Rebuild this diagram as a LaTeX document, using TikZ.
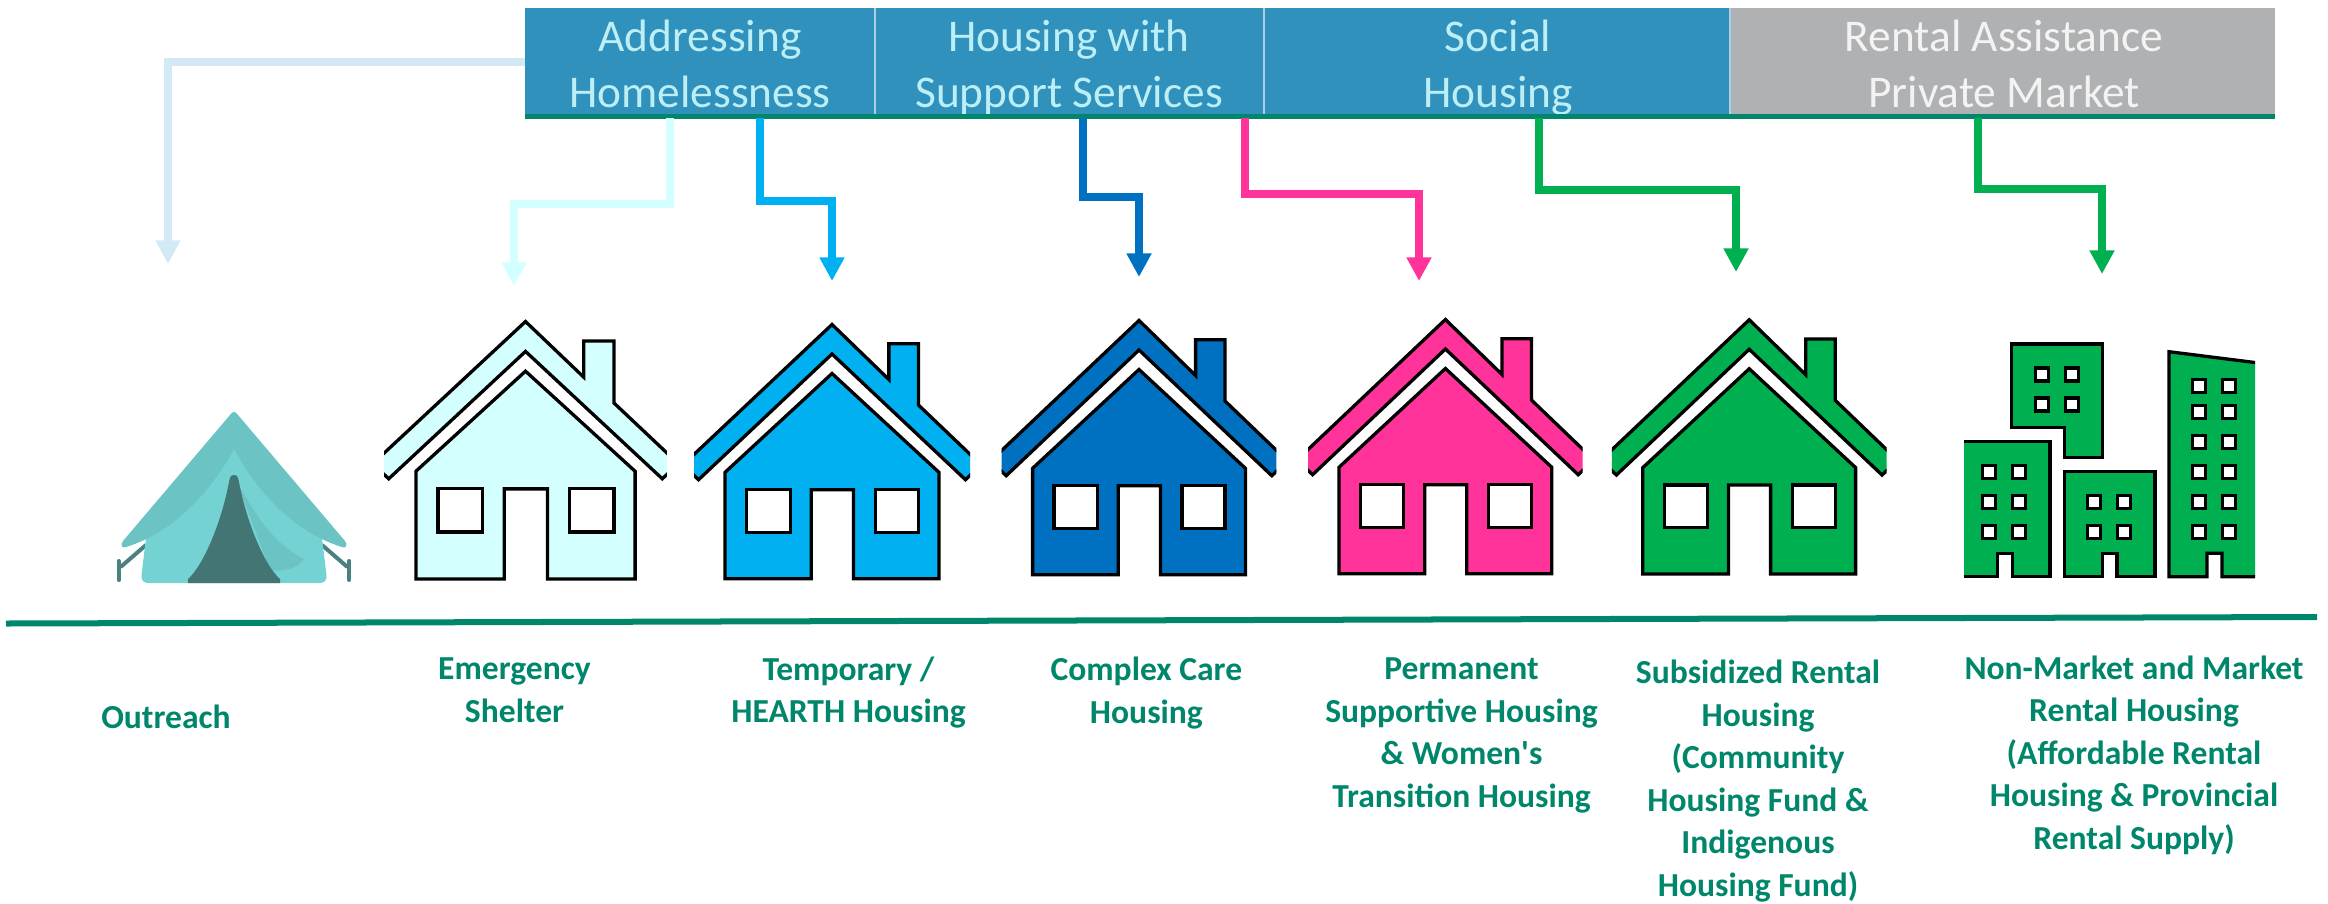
\documentclass[tikz,border=0pt]{standalone}
\usepackage{fontspec}
\setmainfont{Carlito}
\usetikzlibrary{arrows.meta}
\definecolor{cellblue}{HTML}{3091BC}
\definecolor{cellgrey}{HTML}{B0B1B3}
\definecolor{cellrule}{HTML}{A9CFE0}
\definecolor{teal}{HTML}{00876B}
\definecolor{cOut}{HTML}{D4E9F6}
\definecolor{cEme}{HTML}{D4FFFF}
\definecolor{cTem}{HTML}{00B0F0}
\definecolor{cCom}{HTML}{0070C0}
\definecolor{cPer}{HTML}{FF3399}
\definecolor{cSub}{HTML}{00B050}
\definecolor{tentRoof}{HTML}{6CC3C3}
\definecolor{tentBody}{HTML}{74D2D2}
\definecolor{tentDoor}{HTML}{447575}
\definecolor{tentPole}{HTML}{4A8080}
\tikzset{
  x=0.01cm,y=-0.01cm,
  cell/.style={anchor=north west,inner sep=0pt,outer sep=0pt,minimum height=1.07cm},
  headtext/.style={anchor=base,inner sep=0pt,align=center,font=\fontsize{12.9}{15.9}\selectfont},
  caption/.style={anchor=base,inner sep=0pt,align=center,text=teal,font=\fontsize{9.55}{12.08}\selectfont\bfseries},
  route/.style={line width=0.8mm,-{Triangle[length=2.35mm,width=2.35mm]},miter limit=10},
  icon/.style={draw=black,line width=0.33mm,miter limit=10},
  pane/.style={draw=black,fill=white,line width=0.32mm}
}
\newcommand{\houseicon}[6]{%
  \coordinate (#1) at (#2,#3);
  \begin{scope}[shift={(#2,#3)},xscale=#4,yscale=#5]
    \begin{scope}
      \clip (-137.3,-10) rectangle (137.3,170);
      \path[icon,fill=#6] (0,2.5) -- (56.6,57.5) -- (56.6,21.7) -- (86,21.7) -- (86,83)
        -- (148.5,143) -- (132.8,157.7) -- (0,32) -- (-132.8,157.7) -- (-148.5,143) -- cycle;
    \end{scope}
    \path[icon,fill=#6] (0,51.5) -- (106.4,150.3) -- (106.4,256.7) -- (21.4,256.7) -- (21.4,167.7)
      -- (-20.7,167.7) -- (-20.7,256.7) -- (-106.4,256.7) -- (-106.4,150.3) -- cycle;
    \path[pane] (-85,167.7) rectangle (-41.7,210.3);
    \path[pane] (42.9,167.7) rectangle (86,210.3);
  \end{scope}}
\newcommand{\winpane}[2]{\path[pane] (#1-6.5,#2-6.5) rectangle (#1+6.5,#2+6.5);}
\begin{document}
\begin{tikzpicture}
\useasboundingbox (0,0) rectangle (2328,903);

% connectors lying behind the header
\coordinate (outS) at (530,61.6);
\coordinate (outE) at (168,264);
\coordinate (outM) at (168,61.6);
\draw[route,draw=cOut] (outS) -- (outM) -- (outE);

% header cells
\node[cell,fill=cellblue,minimum width=3.505cm] (cAddr) at (524.5,8) {};
\node[cell,fill=cellblue,minimum width=3.89cm] (cSupp) at (875,8) {};
\node[cell,fill=cellblue,minimum width=4.655cm] (cSoc) at (1264,8) {};
\node[cell,fill=cellgrey,minimum width=5.455cm] (cRent) at (1729.5,8) {};
\draw[cellrule,line width=0.2mm] (cSupp.north west) -- (cSupp.south west);
\draw[cellrule,line width=0.2mm] (cSoc.north west) -- (cSoc.south west);
\draw[cellrule,line width=0.2mm] (cRent.north west) -- (cRent.south west);
\node[headtext,text=cEme!85!cellblue] (tAddr) at (700,107.5) {Addressing\\Homelessness};
\node[headtext,text=cEme!85!cellblue] (tSupp) at (1069,107.5) {Housing with\\Support Services};
\node[headtext,text=cEme!85!cellblue] (tSoc) at (1498,107.5) {Social\\Housing};
\node[headtext,text=white!85!cellgrey] (tRent) at (2004,107.5) {Rental Assistance\\Private Market};
\draw[teal,line width=0.45mm] ([yshift=-0.015cm]cAddr.south west) -- ([yshift=-0.015cm]cRent.south east);

% connectors
\coordinate (emeS) at (670,118); \coordinate (emeE) at (514,286); \coordinate (emeM) at (514,204);
\coordinate (temS) at (760,118); \coordinate (temE) at (832,281); \coordinate (temM) at (832,201);
\coordinate (comS) at (1083,118); \coordinate (comE) at (1139,277); \coordinate (comM) at (1139,197);
\coordinate (perS) at (1245,118); \coordinate (perE) at (1419,281); \coordinate (perM) at (1419,194);
\coordinate (subS) at (1539,118); \coordinate (subE) at (1736,272); \coordinate (subM) at (1736,190);
\coordinate (nonS) at (1978,118); \coordinate (nonE) at (2102,274); \coordinate (nonM) at (2102,189);
\draw[route,draw=cEme] (emeS) |- (emeM) -- (emeE);
\draw[route,draw=cTem] (temS) |- (temM) -- (temE);
\draw[route,draw=cCom] (comS) |- (comM) -- (comE);
\draw[route,draw=cPer] (perS) |- (perM) -- (perE);
\draw[route,draw=cSub] (subS) |- (subM) -- (subE);
\draw[route,draw=cSub] (nonS) |- (nonM) -- (nonE);

% tent
\draw[tentPole,line width=0.4mm] (146,545) -- (120.6,567);
\draw[tentPole,line width=0.4mm,line cap=round] (118.7,561) -- (118.7,580);
\draw[tentPole,line width=0.4mm] (322,545) -- (347.4,567);
\draw[tentPole,line width=0.4mm,line cap=round] (349.3,561) -- (349.3,580);
\fill[tentBody] (234,440) -- (321,530) -- (326.5,575) .. controls (327,581) and (324,583) .. (319,583)
  -- (149,583) .. controls (144,583) and (141,581) .. (141.5,575) -- (147,530) -- cycle;
\fill[tentRoof] (237,482) .. controls (258,520) and (276,545) .. (304,559)
  .. controls (298,568) and (284,572) .. (270,570) -- cycle;
\fill[tentDoor] (234,475) .. controls (238,475) and (238,478) .. (239,482)
  .. controls (246,520) and (264,565) .. (280,579) -- (280,583) -- (188,583) -- (188,579)
  .. controls (204,565) and (222,520) .. (229,482) .. controls (230,478) and (230,475) .. (234,475) -- cycle;
\fill[tentRoof] (234,412) .. controls (236,412) and (236,413) .. (238,415) -- (345,541)
  .. controls (348,545) and (346,549) .. (342,547)
  .. controls (300,534) and (262,500) .. (234,449)
  .. controls (206,500) and (168,534) .. (126,547)
  .. controls (122,549) and (120,545) .. (123,541) -- (230,415)
  .. controls (232,413) and (232,412) .. (234,412) -- cycle;

% houses
\houseicon{hEme}{525.5}{319}{1.03}{1.013}{cEme}
\houseicon{hTem}{832}{322}{1.005}{1}{cTem}
\houseicon{hCom}{1139}{318}{1}{1}{cCom}
\houseicon{hPer}{1445.4}{317}{1}{1}{cPer}
\houseicon{hSub}{1749.2}{317.3}{1}{1}{cSub}

% buildings
\path[icon,fill=cSub] (2011.7,344) -- (2102.3,344) -- (2102.3,457.3) -- (2064.3,457.3) -- (2064.3,427.3) -- (2011.7,427.3) -- cycle;
\begin{scope}
  \clip (1964,430) rectangle (2255,590);
  \path[icon,fill=cSub] (1950,441.7) -- (2050,441.7) -- (2050,576.7) -- (2012.3,576.7) -- (2012.3,553.3) -- (1997.3,553.3) -- (1997.3,576.7) -- (1950,576.7) -- cycle;
\end{scope}
\path[icon,fill=cSub] (2064.3,471.7) -- (2155,471.7) -- (2155,576.7) -- (2117,576.7) -- (2117,553.3) -- (2102.3,553.3) -- (2102.3,576.7) -- (2064.3,576.7) -- cycle;
\begin{scope}
  \clip (2150,340) rectangle (2255,590);
  \path[icon,fill=cSub] (2169,351.7) -- (2270,364.4) -- (2270,576.7) -- (2222,576.7) -- (2222,553.3) -- (2207,553.3) -- (2207,576.7) -- (2169,576.7) -- cycle;
\end{scope}
\foreach \wx in {2042,2072}{\foreach \wy in {374.5,404.5}{\winpane{\wx}{\wy}}}
\foreach \wx in {1989.3,2019.3}{\foreach \wy in {471.7,501.7,531.7}{\winpane{\wx}{\wy}}}
\foreach \wx in {2094.3,2124.3}{\foreach \wy in {501.7,531.7}{\winpane{\wx}{\wy}}}
\foreach \wx in {2199.3,2229.3}{\foreach \wy in {385.7,411.7,441.7,471.7,501.7,531.7}{\winpane{\wx}{\wy}}}

% ground line
\coordinate (gL) at (6,623.5);
\coordinate (gR) at (2317,617);
\draw[teal,line width=0.6mm] (gL) -- (gR);

% captions
\node[caption] (lOut) at (166,728) {Outreach};
\node[caption] (lEme) at (514.5,722) {Emergency\\Shelter};
\node[caption] (lTem) at (848.5,722.7) {Temporary /\\HEARTH Housing};
\node[caption] (lCom) at (1146.4,723) {Complex Care\\Housing};
\node[caption] (lPer) at (1461.5,807) {Permanent\\Supportive Housing\\\& Women\textquotesingle s\\Transition Housing};
\node[caption] (lSub) at (1758,896) {Subsidized Rental\\Housing\\(Community\\Housing Fund \&\\Indigenous\\Housing Fund)};
\node[caption] (lNon) at (2134,849) {Non-Market and Market\\Rental Housing\\(Affordable Rental\\Housing \& Provincial\\Rental Supply)};
\end{tikzpicture}
\end{document}
